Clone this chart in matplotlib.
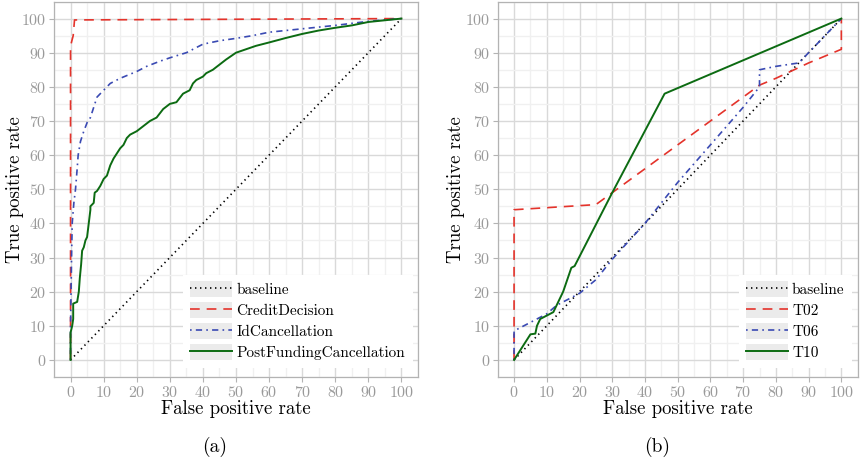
import matplotlib
matplotlib.use("Agg")
import matplotlib.pyplot as plt
from matplotlib.legend_handler import HandlerLine2D
from matplotlib.patches import Rectangle
from matplotlib.ticker import MultipleLocator

plt.rcParams['font.family'] = ['cmr10', 'DejaVu Serif']
plt.rcParams['axes.formatter.use_mathtext'] = True
plt.rcParams['lines.scale_dashes'] = False

# ---------------- data: panel (a) ----------------
base_x = [0, 100]
base_y = [0, 100]

cd_x = [0, 0, 0.8, 1.2, 100]
cd_y = [0, 92, 95, 99.6, 100]

idc_x = [0, 0, 0.3, 0.5, 1, 1.5, 2, 2.3, 3, 4, 5, 6, 7, 8, 10, 12, 15, 20, 23, 27, 30, 35, 40, 45, 50, 55, 60, 70, 80, 90, 100]
idc_y = [0, 10, 30, 40, 46, 50, 56, 60, 64, 67, 69.5, 71, 74, 77, 79, 81, 82.5, 84.5, 86, 87.5, 88.5, 90, 92.5, 93.5, 94.2, 95, 96, 97, 98, 99.2, 100]

pfc_x = [0, 0, 0.5, 0.8, 0.8, 2, 2.5, 2.8, 3.2, 3.5, 4, 4.5, 5, 5.5, 6, 6, 7, 7.3, 8, 9, 10, 11, 12, 13, 14, 15, 16, 17, 18, 20, 22, 24, 26, 28, 30, 32, 34, 36, 37, 38, 40, 41, 43, 45, 47, 50, 53, 56, 60, 65, 70, 75, 80, 85, 90, 95, 100]
pfc_y = [0, 8, 10, 12, 16.5, 17, 20, 24, 28, 32, 33, 35, 36, 40, 44, 45, 46, 49, 49.5, 51, 53, 54, 57, 59, 60.5, 62, 63, 65, 66, 67, 68.5, 70, 71, 73.5, 75, 75.5, 78, 79, 81, 82, 83, 84, 85, 86.5, 88, 90, 91, 92, 93, 94.3, 95.5, 96.5, 97.3, 98, 99, 99.5, 100]

# ---------------- data: panel (b) ----------------
t02_x = [0, 0, 25, 30, 40, 50, 60, 70, 75, 80, 90, 100, 100]
t02_y = [0, 44, 45.5, 49, 56, 63, 70, 77, 80.5, 82.5, 87, 91, 100]

t06_x = [0, 0, 10, 13, 20, 25, 30, 40, 45, 50, 60, 70, 75, 75, 80, 87, 100]
t06_y = [0, 8.5, 13.5, 16, 19.5, 23.5, 29.5, 40, 46, 52, 63, 74, 80, 85, 86, 87, 100]

t10_x = [0, 5, 6.5, 7, 8, 10, 12, 15, 17.5, 18.5, 30, 46, 100]
t10_y = [0, 7.5, 7.7, 10, 12, 13, 14, 20, 27, 27.5, 49, 78, 100]

ticks = [0, 10, 20, 30, 40, 50, 60, 70, 80, 90, 100]

RED = '#e4332b'
BLUE = '#3a4ab3'
GREEN = '#0c6b12'

DOT = (0, (1.0, 2.6))
DASH = (0, (7, 5))
DASHDOT = (0, (1.2, 3, 4.5, 3))
LW = 1.2


class KeyHandler(HandlerLine2D):
    def create_artists(self, legend, orig_handle, xdescent, ydescent,
                       width, height, fontsize, trans):
        arts = super().create_artists(legend, orig_handle, xdescent, ydescent,
                                      width, height, fontsize, trans)
        pad = 1.0
        rect = Rectangle((-xdescent, -ydescent - pad), width, height + 2 * pad,
                         facecolor='#ebebeb', edgecolor='none', transform=trans)
        return [rect] + list(arts)


fig = plt.figure(figsize=(8.63, 4.66), dpi=100)
W, H = 863, 466
axa = fig.add_axes([54 / W, (H - 377) / H, 364 / W, 375.5 / H])
axb = fig.add_axes([497.7 / W, (H - 377) / H, 360 / W, 375.5 / H])


def style(ax):
    ax.set_xlim(-5, 105)
    ax.set_ylim(-5, 105)
    ax.set_xticks(ticks)
    ax.set_yticks(ticks)
    ax.xaxis.set_minor_locator(MultipleLocator(5))
    ax.yaxis.set_minor_locator(MultipleLocator(5))
    ax.grid(which='major', color='#d9d9d9', linewidth=1.0, zorder=0)
    ax.grid(which='minor', color='#f0f0f0', linewidth=1.0, zorder=0)
    ax.set_axisbelow(True)
    for s in ax.spines.values():
        s.set_color('#b3b3b3')
        s.set_linewidth(0.9)
    ax.tick_params(which='major', direction='out', length=3.5, width=0.8,
                   color='#b3b3b3', labelcolor='#9a9a9a', labelsize=11.5, pad=2)
    ax.tick_params(which='minor', length=0)
    ax.set_xlabel('False positive rate', fontsize=13.5, labelpad=0)
    ax.set_ylabel('True positive rate', fontsize=13.5)


style(axa)
style(axb)
axa.yaxis.set_label_coords((24 - 54) / 364, 0.5)
axb.yaxis.set_label_coords((465 - 497.7) / 360, 0.5)

axa.plot(base_x, base_y, color='black', linestyle=DOT, lw=LW, label='baseline')
axa.plot(cd_x, cd_y, color=RED, linestyle=DASH, lw=LW, label='CreditDecision')
axa.plot(idc_x, idc_y, color=BLUE, linestyle=DASHDOT, lw=LW, label='IdCancellation')
axa.plot(pfc_x, pfc_y, color=GREEN, linestyle='-', lw=1.4, label='PostFundingCancellation')

axb.plot(base_x, base_y, color='black', linestyle=DOT, lw=LW, label='baseline')
axb.plot(t02_x, t02_y, color=RED, linestyle=DASH, lw=LW, label='T02')
axb.plot(t06_x, t06_y, color=BLUE, linestyle=DASHDOT, lw=LW, label='T06')
axb.plot(t10_x, t10_y, color=GREEN, linestyle='-', lw=1.4, label='T10')

for ax in (axa, axb):
    leg = ax.legend(loc='lower right', bbox_to_anchor=(0.985, 0.025), fontsize=11,
                    handler_map={matplotlib.lines.Line2D: KeyHandler()},
                    handlelength=2.75, handleheight=1.0, labelspacing=0.38,
                    handletextpad=0.25, borderpad=0.5, borderaxespad=0,
                    frameon=True, fancybox=False)
    leg.get_frame().set_facecolor('white')
    leg.get_frame().set_edgecolor('none')
    leg.get_frame().set_alpha(1)

fig.text(215 / W, 1 - 447 / H, '(a)', ha='center', va='center', fontsize=14)
fig.text(657 / W, 1 - 447 / H, '(b)', ha='center', va='center', fontsize=14)

fig.savefig('out.png', dpi=100)
